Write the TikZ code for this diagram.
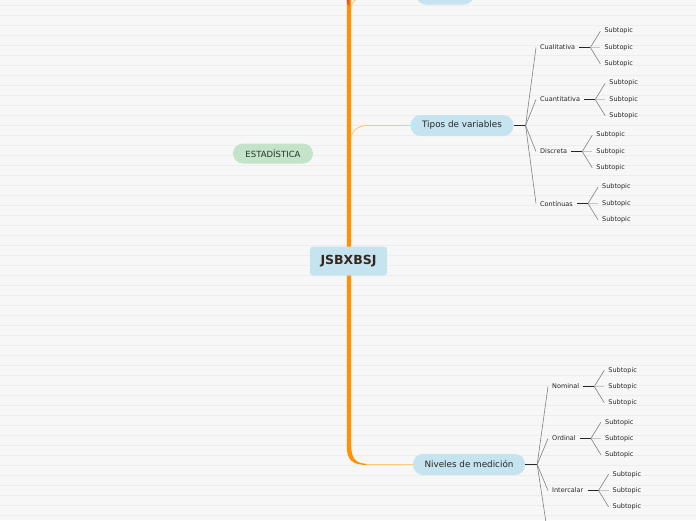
\documentclass[tikz,border=0pt]{standalone}
\usepackage{fontspec}
\setmainfont{DejaVu Sans}
\usepackage{xcolor}
\usepackage{tikz}
\usetikzlibrary{positioning, calc}
\definecolor{mapback}{HTML}{F7F7F7}
\definecolor{mapruled}{HTML}{EDEDED}
\definecolor{mapblue}{HTML}{C6E4EF}
\definecolor{mapgreen}{HTML}{C4E4CA}
\definecolor{maporange}{HTML}{FF9200}
\definecolor{maplight}{HTML}{FFC97A}
\definecolor{mapred}{HTML}{E8502A}
\definecolor{mapgrey}{HTML}{808080}
\definecolor{mapdark}{HTML}{262626}
\definecolor{mapbrown}{HTML}{35261C}
\definecolor{mapforest}{HTML}{24352A}

\tikzset{
    topicbox/.style={fill=mapblue, text=mapdark, font=\fontsize{8.8}{10}\selectfont, minimum height=21pt, inner xsep=11.5pt, rounded corners=10pt},
    kidlabel/.style={anchor=west, text=mapdark, font=\fontsize{6.5}{7}\selectfont, inner sep=4pt},
    sublabel/.style={kidlabel, font=\fontsize{6.5}{7}\selectfont},
    twig/.style={draw=maplight, line width=0.9pt},
    stem/.style={draw=mapdark, line width=1.2pt},
    fan/.style={draw=mapgrey, line width=0.6pt}
}

\begin{document}
\begin{tikzpicture}[x=1pt, y=-1pt]
    % paper
    \useasboundingbox (0,0) rectangle (696,520);
    \clip (0,0) rectangle (696,520);
    \fill[mapback] (0,0) rectangle (696,520);
    \foreach \y in {5,15,...,515}
        \draw[mapruled, line width=0.6pt] (0,\y) -- (696,\y);

    % trunk
    \fill[maporange] (346.8,-10) -- (351.2,-10) -- (351.2,446) .. controls (351.5,459) and (356,463.5) .. (368,464) -- (368,465) .. controls (352,465) and (346.8,460) .. (346.8,446) -- cycle;
    \fill[mapred] (346.5,-10) -- (349.3,-10) -- (349.3,6) -- (346.8,3) -- cycle;

    % main topics
    \node[fill=mapblue, text=mapbrown, font=\fontsize{12.5}{14}\selectfont\bfseries, minimum width=77pt, minimum height=29pt, rounded corners=3pt] (center) at (348.5,261) {JSBXBSJ};
    \node[fill=mapgreen, text=mapforest, font=\fontsize{8.5}{10}\selectfont, minimum height=20pt, inner xsep=12.5pt, rounded corners=10pt] (estad) at (273,153.5) {ESTAD\'{I}STICA};
    \node[topicbox, minimum width=58pt] (upper) at (445,-6) {};
    \node[topicbox] (tipos) at (462,125.5) {Tipos de variables};
    \node[topicbox] (niveles) at (469,464.5) {Niveles de medici\'{o}n};

    \draw[twig] (366,464.5) -- (niveles.west);
    \draw[twig] (351,139) to[out=90, in=180] (367,125.5) -- (tipos.west);
    \draw[twig] (351,9) to[out=90, in=180] (367,-4) -- (upper.west);

    % Tipos de variables
    \node[kidlabel] (cual) at (536,47.5) {Cualitativa};
    \node[kidlabel] (cuan) at (536,99.5) {Cuantitativa};
    \node[kidlabel] (disc) at (536,151.5) {Discreta};
    \node[kidlabel] (cont) at (536,203.5) {Cont\'{i}nuas};
    \draw[stem] (tipos.east) -- ++(12,0) coordinate (tfan);
    \foreach \kid in {cual, cuan, disc, cont}
        \draw[fan] (tfan) -- (\kid.west);

    % Niveles de medicion
    \node[kidlabel] (nom) at (548,386.5) {Nominal};
    \node[kidlabel] (ord) at (548,438.5) {Ordinal};
    \node[kidlabel] (inter) at (548,490.5) {Intercalar};
    \coordinate (below) at (549,542);
    \draw[stem] (niveles.east) -- ++(12,0) coordinate (nfan);
    \foreach \kid in {nom, ord, inter, below}
        \draw[fan] (nfan) -- (\kid.west);

    % subtopics
    \foreach \kid in {cual, cuan, disc, cont, nom, ord, inter} {
        \draw[stem] (\kid.east) -- ++(11,0) coordinate (\kid-fan);
        \foreach \i/\dy in {1/-16.3, 2/0, 3/16.3}
            \node[sublabel] (\kid-\i) at ($(\kid-fan)+(10,\dy)$) {Subtopic};
        \draw[fan] (\kid-fan) -- (\kid-1.west);
        \draw[fan, draw=mapgrey!45] (\kid-fan) -- (\kid-2.west);
        \draw[fan] (\kid-fan) -- (\kid-3.west);
    }
\end{tikzpicture}
\end{document}
